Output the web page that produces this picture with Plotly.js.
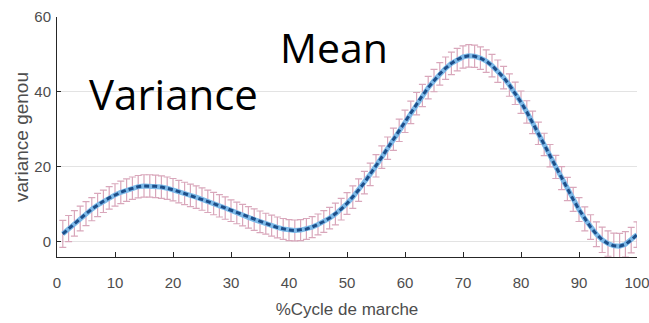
<!DOCTYPE html>
<html>
<head>
<meta charset="utf-8">
<script src="https://cdn.plot.ly/plotly-3.0.1.min.js"></script>
<style>html,body{margin:0;padding:0;background:#fff;}#chart{width:649px;height:323px;}</style>
</head>
<body>
<div id="chart"></div>
<script>
// % gait cycle (x positions)
const cycle = [1,2,3,4,5,6,7,8,9,10,11,12,13,14,15,16,17,18,19,20,21,22,23,24,25,26,27,28,29,30,
31,32,33,34,35,36,37,38,39,40,41,42,43,44,45,46,47,48,49,50,51,52,53,54,55,56,57,58,59,60,
61,62,63,64,65,66,67,68,69,70,71,72,73,74,75,76,77,78,79,80,81,82,83,84,85,86,87,88,89,90,
91,92,93,94,95,96,97,98,99,100];
// Mean knee angle
const meanKnee = [2.0,3.4,4.8,6.1,7.4,8.6,9.7,10.7,11.6,12.4,13.1,13.7,14.2,14.6,14.8,14.8,14.7,14.5,14.2,13.8,
13.3,12.8,12.3,11.8,11.3,10.7,10.1,9.5,8.9,8.2,7.6,7.0,6.4,5.8,5.2,4.7,4.2,3.7,3.3,3.0,
2.9,3.0,3.3,3.8,4.5,5.3,6.2,7.3,8.6,10.1,11.8,13.7,15.7,17.9,20.2,22.5,24.9,27.3,29.7,32.1,
34.5,36.8,39.0,41.1,43.0,44.8,46.3,47.6,48.6,49.3,49.6,49.5,49.0,48.2,47.0,45.5,43.8,41.8,39.6,37.2,
34.6,31.8,28.9,25.9,22.9,19.9,16.9,14.0,11.2,8.5,6.0,3.8,1.9,0.4,-0.6,-1.2,-1.3,-0.8,0.3,1.8];
// Variance (error bar half-length)
const varKnee = [3.6,3.5,3.4,3.3,3.2,3.1,3.1,3.0,3.0,3.0,3.0,3.0,3.0,3.0,3.0,3.0,3.0,3.0,3.0,3.0,
3.0,3.0,3.0,3.0,3.0,3.0,3.0,3.0,3.0,2.9,2.9,2.9,2.9,2.9,2.9,2.8,2.8,2.8,2.8,2.8,
2.8,2.8,2.8,2.8,2.8,2.9,2.9,2.9,2.9,2.9,3.0,3.0,3.0,3.0,3.0,3.0,3.0,3.0,3.0,3.0,
3.0,3.0,3.0,3.0,3.0,3.0,3.0,3.0,3.0,3.0,3.0,3.0,3.0,3.0,3.0,3.0,3.0,3.0,3.0,3.0,
3.0,3.0,3.0,3.0,3.0,3.1,3.1,3.1,3.2,3.2,3.2,3.3,3.3,3.4,3.4,3.4,3.4,3.4,3.4,3.4];
const xTicks = [0,10,20,30,40,50,60,70,80,90,100];
const yTicks = [0,20,40,60];

const traces = [
  {x: cycle, y: meanKnee, type: 'scatter', mode: 'markers',
   marker: {size: 1, opacity: 0, color: '#d8a8bc'},
   error_y: {type: 'data', array: varKnee, visible: true, color: '#d9a7bb', thickness: 1.2, width: 3.5},
   hoverinfo: 'skip', showlegend: false},
  {x: cycle, y: meanKnee, type: 'scatter', mode: 'lines',
   line: {color: '#7db9e8', width: 5}, showlegend: false},
  {x: cycle, y: meanKnee, type: 'scatter', mode: 'lines',
   line: {color: '#1d4f8a', width: 3, dash: '5px,3px'}, showlegend: false}
];

const layout = {
  width: 649, height: 323,
  margin: {l: 57, r: 12, t: 17, b: 66},
  paper_bgcolor: '#ffffff', plot_bgcolor: '#ffffff',
  showlegend: false,
  xaxis: {
    range: [0, 100], tickvals: xTicks, ticktext: xTicks.map(String),
    ticks: 'inside', ticklen: 5, tickcolor: '#262626',
    showline: true, linecolor: '#262626', linewidth: 1,
    showgrid: false, zeroline: false,
    tickfont: {family: 'Liberation Sans, Arial, sans-serif', size: 15, color: '#4d4d4d'},
    ticklabelstandoff: 12, ticklabeloverflow: 'allow',
    title: {text: '%Cycle de marche', font: {family: 'Liberation Sans, Arial, sans-serif', size: 17, color: '#4d4d4d'}, standoff: 13}
  },
  yaxis: {
    range: [-4.2, 60], tickvals: yTicks, ticktext: yTicks.map(String),
    ticks: 'inside', ticklen: 4, tickcolor: '#262626',
    showline: true, linecolor: '#262626', linewidth: 1,
    showgrid: true, gridcolor: '#e3e3e3', gridwidth: 1, zeroline: false,
    tickfont: {family: 'Liberation Sans, Arial, sans-serif', size: 15, color: '#4d4d4d'},
    ticklabelstandoff: 2,
    title: {text: 'variance genou', font: {family: 'Liberation Sans, Arial, sans-serif', size: 19, color: '#4d4d4d'}, standoff: 0}
  },
  annotations: [
    {text: 'Variance', xref: 'paper', yref: 'paper', x: 0.2017, y: 0.68,
     xanchor: 'center', yanchor: 'middle', showarrow: false,
     font: {family: 'Open Sans, sans-serif', size: 42, color: '#000000'}},
    {text: 'Mean', xref: 'paper', yref: 'paper', x: 0.4776, y: 0.876,
     xanchor: 'center', yanchor: 'middle', showarrow: false,
     font: {family: 'Open Sans, sans-serif', size: 41, color: '#000000'}}
  ]
};

Plotly.newPlot('chart', traces, layout, {displayModeBar: false, staticPlot: true});
</script>
</body>
</html>
